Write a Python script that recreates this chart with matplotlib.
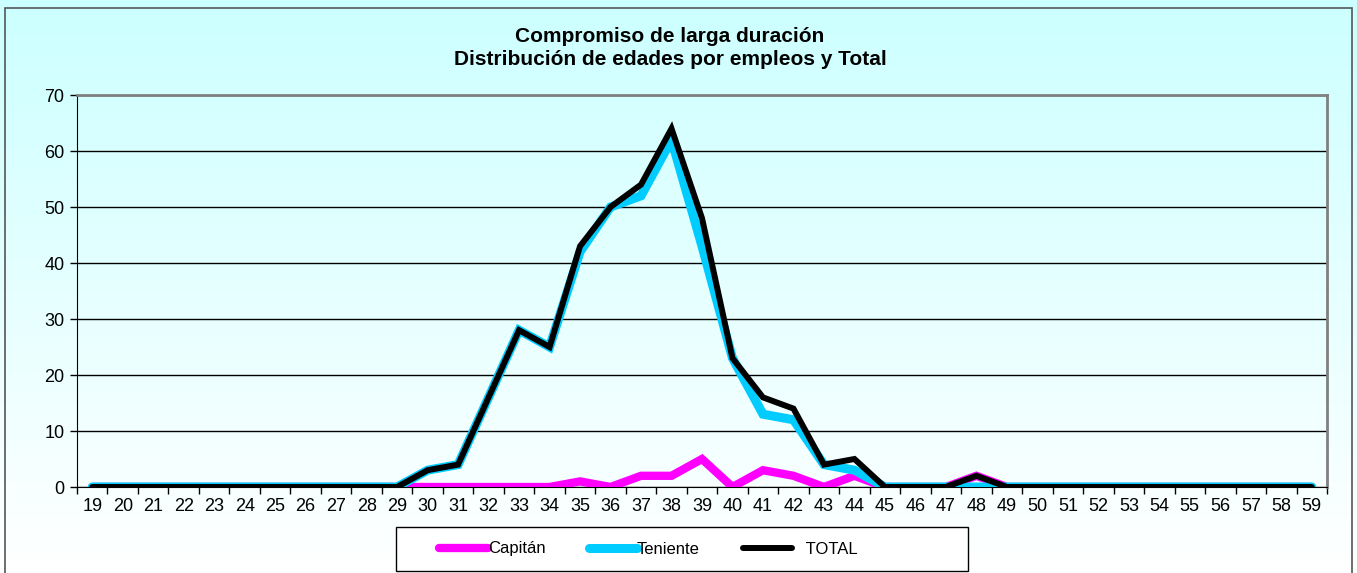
import numpy as np
import matplotlib.pyplot as plt
from matplotlib.patches import Rectangle
from matplotlib.ticker import FixedLocator, NullFormatter

plt.rcParams['font.family'] = ['Liberation Sans', 'DejaVu Sans']

ages = list(range(19, 60))
# values (ages 19..59)
capitan = [0]*11 + [0, 0, 0, 0, 0, 1, 0, 2, 2, 5, 0, 3, 2, 0, 2, 0, 0, 0, 2, 0] + [0]*10
teniente = [0]*11 + [3, 4, 16, 28, 25, 42, 50, 52, 62, 43, 23, 13, 12, 4, 3, 0, 0, 0, 0, 0] + [0]*10
total = [0]*11 + [3, 4, 16, 28, 25, 43, 50, 54, 64, 48, 23, 16, 14, 4, 5, 0, 0, 0, 2, 0] + [0]*10

title = "Compromiso de larga duración\nDistribución de edades por empleos y Total"

W, H = 1357, 573
fig = plt.figure(figsize=(W/100, H/100), dpi=100)

# gradient background for the whole chart area
bg = fig.add_axes([0, 0, 1, 1], zorder=-10)
grad = np.linspace(0, 1, 256).reshape(-1, 1)
top_c = np.array([204, 255, 255]) / 255.0
bot_c = np.array([255, 255, 255]) / 255.0
img = top_c*(1-grad[..., None]) + bot_c*grad[..., None]
img = img.reshape(256, 1, 3)
bg.imshow(img, aspect='auto', extent=[0, 1, 0, 1], origin='upper')
bg.set_xlim(0, 1)
bg.set_ylim(0, 1)
bg.axis('off')

# outer frame (bottom edge is cut off in the picture)
fig.patches.append(Rectangle((5/W, -0.05), (1352-5)/W, 1.05 - 8/H,
                             transform=fig.transFigure, fill=False,
                             edgecolor='#555555', lw=1.2))

ax = fig.add_axes([77/W, 1-487/H, (1327-77)/W, (487-95)/H])
ax.patch.set_alpha(0)

x = np.arange(len(ages))
ax.plot(x, capitan, color='#FF00FF', lw=6, solid_capstyle='round',
        solid_joinstyle='miter', label='Capitán', zorder=3)
ax.plot(x, teniente, color='#00CCFF', lw=6.5, solid_capstyle='round',
        solid_joinstyle='miter', label='Teniente', zorder=4)
ax.plot(x, total, color='black', lw=4.3, solid_capstyle='round',
        solid_joinstyle='miter', label='   TOTAL', zorder=5)

ax.set_xlim(-0.5, len(ages)-0.5)
ax.set_ylim(0, 70)
ax.set_yticks(range(0, 71, 10))
ax.set_xticks(x)
ax.set_xticklabels([str(a) for a in ages])
ax.xaxis.set_minor_locator(FixedLocator(np.arange(-0.5, len(ages), 1)))
ax.xaxis.set_minor_formatter(NullFormatter())
ax.tick_params(axis='x', which='major', length=0, labelsize=13, pad=8)
ax.tick_params(axis='x', which='minor', length=5, width=1, direction='out')
ax.tick_params(axis='y', length=5, width=1, direction='out', labelsize=13, pad=4)

ax.grid(axis='y', color='black', lw=1, zorder=1)
ax.set_axisbelow(True)
ax.spines['left'].set_color('black')
ax.spines['bottom'].set_color('black')
ax.spines['top'].set_color('#808080')
ax.spines['right'].set_color('#808080')
ax.spines['top'].set_linewidth(2)
ax.spines['right'].set_linewidth(2)

fig.text(670/W, 1-48/H, title, ha='center', va='center', fontsize=15,
         fontweight='bold', linespacing=1.3)

# legend box drawn separately, entries placed inside
fig.patches.append(Rectangle((396/W, 1-571/H), (968-396)/W, (571-527)/H,
                             transform=fig.transFigure, facecolor='white',
                             edgecolor='black', lw=1, zorder=1))
leg = fig.legend(loc='center left', bbox_to_anchor=(431/W, 1-549/H), ncol=3,
                 frameon=False, fontsize=12, handlelength=2.9,
                 handletextpad=0.0, columnspacing=2.6, borderpad=0)
leg.set_zorder(2)
for h in leg.get_lines():
    h.set_solid_capstyle('round')

fig.savefig('out.png', dpi=100)
